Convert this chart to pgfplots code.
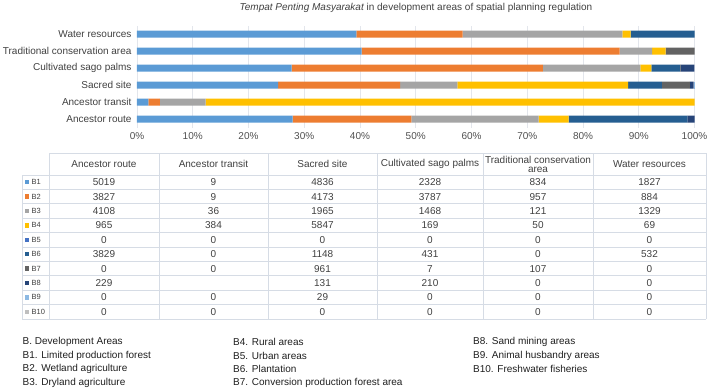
\documentclass[border=0pt]{standalone}
\usepackage{fontspec}
\setmainfont{Liberation Sans}
\usepackage{pgfplots}
\usepackage{pgfplotstable}
\pgfplotsset{compat=1.18}
\definecolor{cB1}{HTML}{5B9BD5}
\definecolor{cB2}{HTML}{ED7D31}
\definecolor{cB3}{HTML}{A5A5A5}
\definecolor{cB4}{HTML}{FFC000}
\definecolor{cB5}{HTML}{4472C4}
\definecolor{cB6}{HTML}{255E91}
\definecolor{cB7}{HTML}{636363}
\definecolor{cB8}{HTML}{264478}
\definecolor{cB9}{HTML}{8DB9E3}
\definecolor{cB10}{HTML}{BFBFBF}
\definecolor{gridc}{HTML}{E3E6EC}
\definecolor{tblc}{HTML}{D6DCE5}
\definecolor{txt}{HTML}{404040}
\definecolor{ticktxt}{HTML}{505050}
\pgfplotstableread{
y B1 B2 B3 B4 B5 B6 B7 B8 B9 B10 T
0 5019 3827 4108 965 0 3829 0 229 0 0 17977
1 9 9 36 384 0 0 0 0 0 0 438
2 4836 4173 1965 5847 0 1148 961 131 29 0 19090
3 2328 3787 1468 169 0 431 7 210 0 0 8400
4 834 957 121 50 0 0 107 0 0 0 2069
5 1827 884 1329 69 0 532 0 0 0 0 4641
}\data
\begin{document}
\begin{tikzpicture}[x=1bp,y=-1bp]
\path[use as bounding box] (0,0) rectangle (708,389);
\coordinate (axsw) at (137,127.5);
\begin{axis}[
  at={(axsw)}, anchor=south west,
  scale only axis, width=557.5bp, height=102bp,
  xbar stacked, bar width=7bp,
  xmin=0, xmax=100, ymin=-0.5, ymax=5.5,
  ytick={0,...,5},
  yticklabels={Ancestor route,Ancestor transit,Sacred site,Cultivated sago palms,Traditional conservation area,Water resources},
  xtick={0,10,...,100},
  /pgf/number format/assume math mode=true,
  xticklabel={\pgfmathprintnumber{\tick}\%},
  axis line style={draw=none},
  major tick length=0pt,
  xmajorgrids, grid style={draw=gridc, line width=0.9bp},
  xticklabel style={font=\fontsize{10bp}{12bp}\selectfont, text=ticktxt, yshift=-1bp},
  yticklabel style={font=\fontsize{10bp}{12bp}\selectfont, text=txt, xshift=-2bp},
  clip=false,
]
\pgfplotsinvokeforeach{1,...,10}{
  \addplot[fill=cB#1, draw=none] table[x expr=\thisrow{B#1}/\thisrow{T}*100, y=y] {\data};
}
\end{axis}
\node[font=\fontsize{10bp}{12bp}\selectfont, text=txt] at (416,8) {\itshape Tempat Penting Masyarakat\upshape\ in development areas of spatial planning regulation};
% table grid
\begin{scope}[draw=tblc, line width=1bp]
\draw (49,153) -- (706,153);
\foreach \k in {0,...,10} { \draw (22,{175+14.4*\k}) -- (706,{175+14.4*\k}); }
\draw (22,175) -- (22,319);
\foreach \xx in {49,159,268,377,483,593,706} { \draw (\xx,153) -- (\xx,319); }
\end{scope}
% header
\begin{scope}[font=\fontsize{10bp}{12bp}\selectfont, text=txt]
\node at (104,164) {Ancestor route};
\node at (213.5,164) {Ancestor transit};
\node at (322.5,164) {Sacred site};
\node at (430,164) {Cultivated sago palms};
\node[align=center, font=\fontsize{10bp}{9bp}\selectfont] at (538,164) {Traditional conservation\\area};
\node at (649.5,164) {Water resources};
\end{scope}
\foreach \r/\a/\b/\c/\d/\e/\f [count=\i] in {B1/5019/9/4836/2328/834/1827, B2/3827/9/4173/3787/957/884, B3/4108/36/1965/1468/121/1329, B4/965/384/5847/169/50/69, B5/0/0/0/0/0/0, B6/3829/0/1148/431/0/532, B7/0/0/961/7/107/0, B8/229/{}/131/210/0/0, B9/0/0/29/0/0/0, B10/0/0/0/0/0/0} {
  \pgfmathsetmacro{\yy}{175+14.4*(\i-0.5)}
  \fill[c\r] (25,\yy-2.2) rectangle (29.4,\yy+2.2);
  \node[anchor=west, inner sep=0pt, font=\fontsize{7.5bp}{9bp}\selectfont, text=txt] at (31.5,\yy) {\r};
  \begin{scope}[font=\fontsize{10bp}{12bp}\selectfont, text=txt]
  \node at (104,\yy) {\a};
  \node at (213.5,\yy) {\b};
  \node at (322.5,\yy) {\c};
  \node at (430,\yy) {\d};
  \node at (538,\yy) {\e};
  \node at (649.5,\yy) {\f};
  \end{scope}
}
% footnotes
\begin{scope}[font=\fontsize{10bp}{12bp}\selectfont, text=black!88, every node/.style={anchor=west, inner sep=0pt}]
\node at (22.5,342) {B. Development Areas};
\node at (22.5,355.5) {B1. Limited production forest};
\node at (22.5,369) {B2. Wetland agriculture};
\node at (22.5,382.5) {B3. Dryland agriculture};
\node at (233,342) {B4. Rural areas};
\node at (233,355.5) {B5. Urban areas};
\node at (233,369) {B6. Plantation};
\node at (233,382.5) {B7. Conversion production forest area};
\node at (473,342) {B8. Sand mining areas};
\node at (473,355.5) {B9. Animal husbandry areas};
\node at (473,369) {B10. Freshwater fisheries};
\end{scope}
\end{tikzpicture}
\end{document}
